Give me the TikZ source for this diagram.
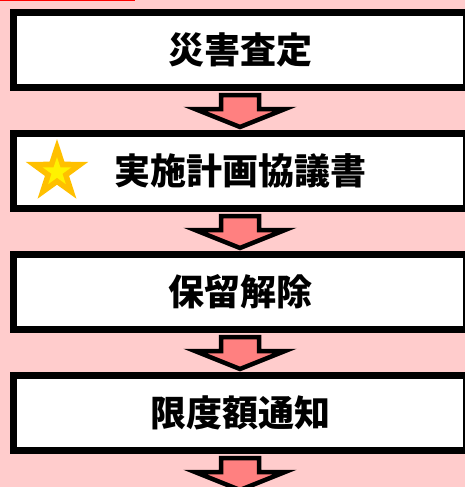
\documentclass[tikz,border=0pt]{standalone}
\usepackage{fontspec}
\newfontfamily\cjk{Noto Sans CJK JP}
\usetikzlibrary{shapes.geometric}
\definecolor{bgpink}{HTML}{FFCCCC}
\definecolor{arrowpink}{HTML}{FF8080}
\definecolor{stargold}{HTML}{FFC000}
\begin{document}
\begin{tikzpicture}[x=1pt,y=-1pt,
  box/.style={draw=black, line width=7pt, fill=white, minimum width=453pt,
    minimum height=75pt, inner sep=0pt,
    font=\cjk\bfseries\fontsize{36pt}{40pt}\selectfont},
  downarrow/.pic={\draw[line width=4.5pt, fill=arrowpink, line join=miter]
    (-19,4) -- (19,4) -- (19,18) -- (45,18) -- (0,36) -- (-45,18) -- (-19,18) -- cycle;},
  starshape/.style={star, star points=5, star point ratio=2.6, draw=none, inner sep=0pt}
]
\path[use as bounding box] (0,0) rectangle (465,487);
\clip (0,0) rectangle (465,487);
\fill[bgpink] (0,0) rectangle (465,487);
\draw[red, line width=1.5pt] (0,0.75) -- (135,0.75);

\node[box] (b1) at (240,50) {災害査定};
\node[box] (b2) at (240,171) {実施計画協議書};
\node[box] (b3) at (240,292) {保留解除};
\node[box] (b4) at (240,413) {限度額通知};

\node[starshape, fill=stargold, minimum size=66pt] (star) at (57,172) {};
\node[starshape, fill=yellow, minimum size=30pt] (starin) at (star.center) {};

\pic at (b1.south) {downarrow};
\pic at (b2.south) {downarrow};
\pic at (b3.south) {downarrow};
\pic at (b4.south) {downarrow};
\end{tikzpicture}
\end{document}
